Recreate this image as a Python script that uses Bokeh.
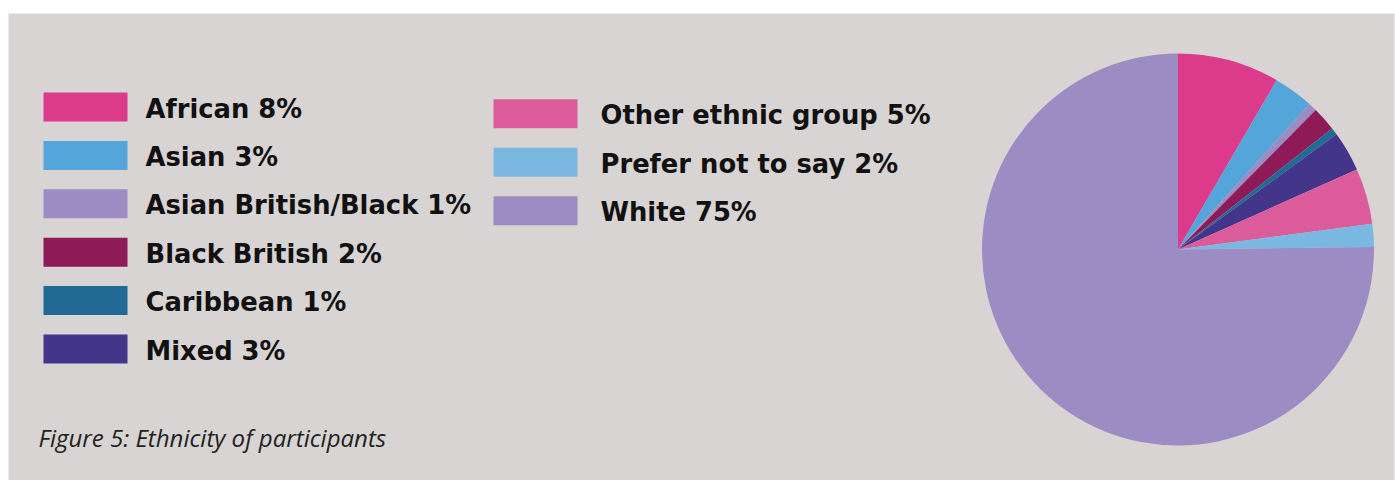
import numpy as np
from bokeh.plotting import figure
from bokeh.models import Range1d, ColumnDataSource
from bokeh.core.properties import value
from bokeh.embed import file_html
from bokeh.resources import INLINE

# ---- data ----
categories = ["African", "Asian", "Asian British/Black", "Black British", "Caribbean",
              "Mixed", "Other ethnic group", "Prefer not to say", "White"]
label_pct = ["8%", "3%", "1%", "2%", "1%", "3%", "5%", "2%", "75%"]
shares = [8.4, 3.3, 0.7, 2.0, 0.6, 3.3, 4.6, 1.9, 75.2]
colors = ["#dc3a8a", "#53a5da", "#9b8cc3", "#8e1b58", "#226a96",
          "#42358a", "#dc5b9b", "#7ab8e2", "#9b8cc3"]
caption = "Figure 5: Ethnicity of participants"

W, H = 1395, 480
LEFT, TOP = 8, 13
BG = "#d8d4d3"

p = figure(width=W, height=H, output_backend="svg", toolbar_location=None,
           x_range=Range1d(0, W - LEFT - 1), y_range=Range1d(0, H - TOP),
           min_border_left=LEFT, min_border_top=TOP, min_border_right=1, min_border_bottom=0,
           background_fill_color=BG, border_fill_color="white", outline_line_color=None)
p.axis.visible = False
p.grid.visible = False

def X(x):  # image px -> data
    return x - LEFT

def Y(y):
    return H - y

# ---- pie ----
vals = np.array(shares, dtype=float)
frac = vals / vals.sum()
cum = np.concatenate([[0], np.cumsum(frac)])
start = np.pi / 2 - 2 * np.pi * cum[:-1]
end = np.pi / 2 - 2 * np.pi * cum[1:]
src = ColumnDataSource(dict(start=start, end=end, color=colors))
p.wedge(x=X(1177.5), y=Y(249), radius=196, radius_units="screen",
        start_angle="start", end_angle="end", direction="clock",
        fill_color="color", line_color=None, source=src)

# ---- legend ----
labels = [f"{c} {v}" for c, v in zip(categories, label_pct)]
col1_n = 6
lx, lt, ly = [], [], []
left, right, top, bottom = [], [], [], []
for i, lab in enumerate(labels):
    if i < col1_n:
        cy = 106.5 + i * 48.4
        bx0, bx1, tx = 43, 127, 145
    else:
        cy = 113.3 + (i - col1_n) * 48.5
        bx0, bx1, tx = 493, 577, 600
    left.append(X(bx0)); right.append(X(bx1))
    top.append(Y(cy - 14.5)); bottom.append(Y(cy + 14.5))
    lx.append(X(tx)); ly.append(Y(cy + 1.5)); lt.append(lab)

p.quad(left=left, right=right, top=top, bottom=bottom, fill_color=colors, line_color=None)
p.text(x=lx, y=ly, text=lt, text_font=value("DejaVu Sans"), text_font_size="25.8px",
       text_font_style="bold", text_baseline="alphabetic", text_align="left",
       text_color="#111111")

# ---- caption ----
p.text(x=[X(38)], y=[Y(437)], text=[caption], text_font=value("Open Sans"),
       text_font_size="24px", text_font_style="italic", text_baseline="alphabetic",
       text_align="left", text_color="#222222")

open("out.html", "w").write(file_html(p, INLINE))
